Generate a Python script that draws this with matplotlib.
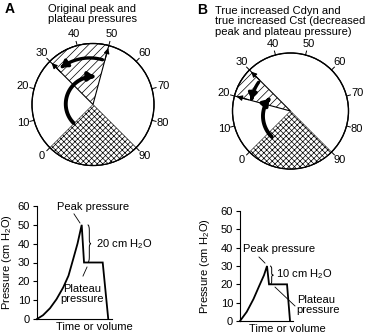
import numpy as np
import matplotlib
matplotlib.use("Agg")
import matplotlib.pyplot as plt
from matplotlib.patches import Circle, Wedge, FancyArrowPatch, PathPatch
from matplotlib.path import Path

plt.rcParams['font.family'] = ['Liberation Sans', 'DejaVu Sans']
plt.rcParams['mathtext.fontset'] = 'custom'
plt.rcParams['mathtext.rm'] = 'Liberation Sans'
plt.rcParams['hatch.linewidth'] = 0.5

# ---- data ----
dial_values = list(range(0, 100, 10))

peak_A, plateau_A = 50, 30
peak_B, plateau_B = 30, 20

# pressure traces (time in arbitrary units, cm H2O)
time_A = [0, 0.8, 1.73, 2.6, 3.5, 4.2, 4.84, 5.4, 5.96, 6.27, 8.76, 9.5]
pres_A = [0, 2, 5.7, 10.5, 16.8, 23, 32, 40, 50, 30, 30, 0]
time_B = [0, 0.9, 1.8, 2.6, 3.2, 3.6, 3.87, 6.27, 6.67]
pres_B = [0, 5, 12, 19.5, 25, 30, 20, 20, 0]

title_A = "Original peak and\nplateau pressures"
title_B = "True increased Cdyn and\ntrue increased Cst (decreased\npeak and plateau pressure)"
diff_A = "20 cm H$_2$O"
diff_B = "10 cm H$_2$O"
ylab = "Pressure (cm H$_2$O)"
xlab = "Time or volume"

W, H = 366, 333
FS = 8


def ang(v):
    return np.deg2rad(225 - 3 * v)


def curved_arrow(ax, v0, v1, r0, r1, lw):
    th = np.linspace(ang(v0), ang(v1), 40)
    rr = np.linspace(r0, r1, 40)
    pts = np.c_[rr * np.cos(th), rr * np.sin(th)]
    ax.add_patch(FancyArrowPatch(path=Path(pts), arrowstyle='-|>,head_length=0.5,head_width=0.35',
                                 mutation_scale=7, lw=lw, color='black', zorder=6,
                                 shrinkA=0, shrinkB=0))


def draw_gauge(ax, peak, plateau, sweep, drop):
    L = 1.35
    ax.set_xlim(-L, L)
    ax.set_ylim(-L, L)
    ax.set_aspect('equal')
    ax.axis('off')
    ax.add_patch(Circle((0, 0), 1, fc='white', ec='black', lw=0.9, zorder=1))
    ax.add_patch(Wedge((0, 0), 1, 225, 315, fc='white', ec='black', lw=0.4,
                       hatch='xxxxxx', zorder=2))
    ax.add_patch(Wedge((0, 0), 1, 225 - 3 * peak, 225 - 3 * plateau, fc='white',
                       ec='black', lw=0.8, hatch='////', zorder=2))
    ax.add_patch(Circle((0, 0), 1, fc='none', ec='black', lw=0.9, zorder=3))
    for v in dial_values:
        a = ang(v)
        ax.plot([np.cos(a), 1.07 * np.cos(a)], [np.sin(a), 1.07 * np.sin(a)],
                color='black', lw=0.7, zorder=3)
        ax.text(1.19 * np.cos(a), 1.19 * np.sin(a), str(v), ha='center', va='center',
                fontsize=FS)
    # needle tips
    for v in (peak, plateau):
        a = ang(v)
        ax.annotate('', xy=(0.96 * np.cos(a), 0.96 * np.sin(a)),
                    xytext=(0.75 * np.cos(a), 0.75 * np.sin(a)),
                    arrowprops=dict(arrowstyle='-|>', mutation_scale=8, lw=0.8,
                                    color='black', shrinkA=0, shrinkB=0), zorder=5)
    curved_arrow(ax, *sweep, lw=2.8)
    curved_arrow(ax, *drop, lw=2.4)


def brace(ax, x, y0, y1, w):
    h = y1 - y0
    ym = (y0 + y1) / 2
    verts = [(x, y1), (x + w / 2, y1), (x + w / 2, y1 - h * 0.15),
             (x + w / 2, ym + h * 0.1),
             (x + w / 2, ym), (x + w, ym),
             (x + w / 2, ym), (x + w / 2, ym - h * 0.1),
             (x + w / 2, y0 + h * 0.15),
             (x + w / 2, y0), (x, y0)]
    codes = [Path.MOVETO, Path.CURVE3, Path.CURVE3, Path.LINETO, Path.CURVE3, Path.CURVE3,
             Path.CURVE3, Path.CURVE3, Path.LINETO, Path.CURVE3, Path.CURVE3]
    ax.add_patch(PathPatch(Path(verts, codes), fc='none', ec='black', lw=0.7, clip_on=False))


def pressure_axes(ax, t, p, xmax):
    ax.plot(t, p, color='black', lw=1.3, solid_joinstyle='miter', clip_on=False)
    ax.set_xlim(0, xmax)
    ax.set_ylim(0, 60)
    ax.set_yticks(range(0, 70, 10))
    ax.set_xticks([])
    for s in ('top', 'right'):
        ax.spines[s].set_visible(False)
    for s in ('left', 'bottom'):
        ax.spines[s].set_linewidth(0.8)
    ax.tick_params(axis='y', length=3, width=0.8, labelsize=FS, pad=2)
    ax.set_ylabel(ylab, fontsize=FS)
    ax.set_xlabel(xlab, fontsize=FS)
    ax.patch.set_alpha(0)


fig = plt.figure(figsize=(W / 100, H / 100), dpi=100)


def px_axes(cx, cy, half):
    return fig.add_axes([(cx - half) / W, (H - cy - half) / H, 2 * half / W, 2 * half / H])


# ---- gauges ----
gA = px_axes(93, 104.5, 61 * 1.35)
draw_gauge(gA, peak_A, plateau_A, sweep=(0.5, 46, 0.44, 0.46),
           drop=(peak_A - 1, plateau_A + 1.5, 0.75, 0.8))
gB = px_axes(290.5, 111, 58 * 1.35)
draw_gauge(gB, peak_B, plateau_B, sweep=(-3, 25, 0.55, 0.42),
           drop=(peak_B - 1, plateau_B + 0.5, 0.74, 0.70))

# ---- pressure plots ----
axA = fig.add_axes([37 / W, 14 / H, 75 / W, 113 / H])
pressure_axes(axA, time_A, pres_A, 10)
axA.yaxis.set_label_coords(-0.30, 0.5)
axA.xaxis.set_label_coords(0.76, -0.03)
axA.text(7.47, 59.5, "Peak pressure", ha='center', va='center', fontsize=FS)
axA.plot([5.73, 4.93], [51, 55.8], color='black', lw=0.6, clip_on=False)
brace(axA, 6.75, plateau_A, peak_A, 0.45)
axA.text(7.87, 40, diff_A, ha='left', va='center', fontsize=FS)
axA.text(6.0, 13.3, "Plateau\npressure", ha='center', va='center', fontsize=FS,
         linespacing=1.0)
axA.plot([6.67, 6.13], [27.6, 22.8], color='black', lw=0.6)

axB = fig.add_axes([240 / W, 12 / H, 52.5 / W, 110 / H])
pressure_axes(axB, time_B, pres_B, 7)
axB.yaxis.set_label_coords(-0.53, 0.5)
axB.xaxis.set_label_coords(0.91, -0.03)
axB.text(5.2, 39.3, "Peak pressure", ha='center', va='center', fontsize=FS)
axB.plot([3.33, 2.53], [31.6, 34.9], color='black', lw=0.6, clip_on=False)
brace(axB, 4.0, plateau_B, peak_B, 0.45)
axB.text(4.75, 25.6, diff_B, ha='left', va='center', fontsize=FS)
axB.plot([4.67, 7.33], [18.5, 8.2], color='black', lw=0.6, clip_on=False)
axB.text(7.55, 8.7, "Plateau\npressure", ha='left', va='center', fontsize=FS,
         linespacing=1.0)

# ---- panel titles ----
fig.text(5 / W, 1 - 2 / H, "A", fontsize=10, fontweight='bold', ha='left', va='top')
fig.text(92 / W, 1 - 14.5 / H, title_A, fontsize=FS, ha='center', va='center',
         linespacing=1.0)
fig.text(197 / W, 1 - 3 / H, "B", fontsize=10, fontweight='bold', ha='left', va='top')
fig.text(215 / W, 1 - 21.5 / H, title_B, fontsize=FS, ha='left', va='center',
         linespacing=1.05)

fig.savefig("out.png", dpi=100)
